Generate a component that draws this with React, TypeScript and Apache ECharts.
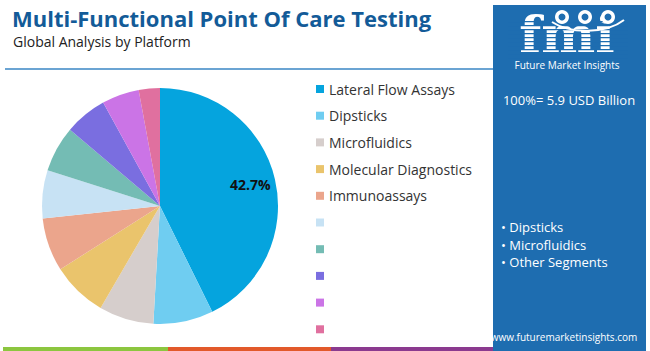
import React, { useEffect, useRef } from 'react';
import * as echarts from 'echarts';

const segments = [
  'Lateral Flow Assays',
  'Dipsticks',
  'Microfluidics',
  'Molecular Diagnostics',
  'Immunoassays',
  'Segment 6',
  'Segment 7',
  'Segment 8',
  'Segment 9',
  'Segment 10',
];
const shares = [42.7, 8.2, 7.5, 7.6, 7.3, 6.6, 6.3, 5.8, 5.1, 2.9];
const sliceColors = [
  '#05a4de',
  '#6fcdf1',
  '#d6cecc',
  '#eac46c',
  '#eba58c',
  '#c7e2f4',
  '#74bcb4',
  '#7a6ee0',
  '#cb74e6',
  '#e0709f',
];
const namedCount = 5;
const titleText = 'Multi-Functional Point Of Care Testing';
const subtitleText = 'Global Analysis by Platform';
const totalText = '100%= 5.9 USD Billion';
const panelBullets = ['Dipsticks', 'Microfluidics', 'Other Segments'];
const siteText = 'www.futuremarketinsights.com';

const FONT = '"Open Sans", Lato, sans-serif';
const PANEL = '#1e6db0';

function buildGraphics() {
  const g: any[] = [];
  // bottom strip
  g.push({ type: 'rect', shape: { x: 3, y: 347, width: 165, height: 4 }, style: { fill: '#8cc63f' } });
  g.push({ type: 'rect', shape: { x: 168, y: 347, width: 163, height: 4 }, style: { fill: '#e2592a' } });
  g.push({ type: 'rect', shape: { x: 331, y: 347, width: 162, height: 4 }, style: { fill: '#8b3a8f' } });
  // header line
  g.push({ type: 'line', shape: { x1: 5, y1: 69, x2: 493, y2: 69 }, style: { stroke: '#3a86c4', lineWidth: 1.5 } });
  // title
  g.push({
    type: 'text', x: 12, y: 18,
    style: { text: titleText, fill: '#135b98', font: `bold 22px ${FONT}`, align: 'left', verticalAlign: 'middle' },
  });
  g.push({
    type: 'text', x: 13, y: 41,
    style: { text: subtitleText, fill: '#222', font: `14px ${FONT}`, align: 'left', verticalAlign: 'middle' },
  });
  // right panel
  g.push({ type: 'rect', shape: { x: 493, y: 5, width: 153, height: 346 }, style: { fill: PANEL } });
  // logo
  g.push({
    type: 'text', x: 567, y: 34,
    style: {
      text: 'fmi', fill: '#ffffff', font: `bold 51px "DejaVu Serif", serif`,
      align: 'center', verticalAlign: 'middle',
    },
  });
  for (let y = 21; y < 58; y += 4) {
    g.push({ type: 'rect', shape: { x: 508, y, width: 120, height: 1.2 }, style: { fill: PANEL } });
  }
  g.push({
    type: 'bezierCurve',
    shape: { x1: 552, y1: 22, x2: 624, y2: 20, cpx1: 570, cpy1: 34, cpx2: 606, cpy2: 34 },
    style: { stroke: '#ffffff', lineWidth: 2, fill: null },
  });
  [562, 585, 608].forEach((cx) => {
    g.push({ type: 'circle', shape: { cx, cy: 17, r: 7 }, style: { fill: '#ffffff' } });
    g.push({ type: 'circle', shape: { cx, cy: 17, r: 3.5 }, style: { fill: PANEL } });
  });
  g.push({
    type: 'text', x: 567, y: 65,
    style: { text: 'Future Market Insights', fill: '#ffffff', font: `10px ${FONT}`, align: 'center', verticalAlign: 'middle' },
  });
  g.push({
    type: 'text', x: 569, y: 100,
    style: { text: totalText, fill: '#ffffff', font: `13px ${FONT}`, align: 'center', verticalAlign: 'middle' },
  });
  panelBullets.forEach((b, i) => {
    g.push({
      type: 'text', x: 501, y: 227 + i * 17.5,
      style: { text: '\u2022 ' + b, fill: '#ffffff', font: `13px ${FONT}`, align: 'left', verticalAlign: 'middle' },
    });
  });
  g.push({
    type: 'text', x: 564, y: 337,
    style: { text: siteText, fill: '#ffffff', font: `10px ${FONT}`, align: 'center', verticalAlign: 'middle' },
  });
  return g;
}

export default function App() {
  const ref = useRef<HTMLDivElement>(null);
  useEffect(() => {
    if (!ref.current) return;
    const chart = echarts.init(ref.current, undefined, { renderer: 'svg' });
    const R = 118;
    chart.setOption({
      animation: false,
      backgroundColor: '#ffffff',
      color: sliceColors,
      legend: {
        orient: 'vertical',
        left: 311,
        top: 77,
        itemWidth: 8,
        itemHeight: 8,
        itemGap: 12.7,
        icon: 'rect',
        selectedMode: false,
        data: segments,
        formatter: (name: string) => {
          const idx = segments.indexOf(name);
          return idx < namedCount ? name : '\u00a0';
        },
        textStyle: { fontFamily: FONT, fontSize: 14, color: '#333', lineHeight: 14 },
      },
      graphic: buildGraphics(),
      series: [
        {
          type: 'pie',
          center: [160, 206],
          radius: [0, R],
          startAngle: 90,
          clockwise: true,
          silent: true,
          label: { show: false },
          labelLine: { show: false },
          data: shares.map((v, i) => ({ value: v, name: segments[i] })),
        },
        {
          type: 'pie',
          center: [160, 206],
          radius: [R * 0.52, R],
          startAngle: 90,
          clockwise: true,
          silent: true,
          itemStyle: { color: 'rgba(0,0,0,0)' },
          labelLine: { show: false },
          label: {
            position: 'inside',
            formatter: (p: any) => p.percent.toFixed(1) + '%',
            fontFamily: FONT,
            fontWeight: 'bold',
            fontSize: 14,
            color: '#111',
          },
          data: shares.map((v, i) => ({ value: v, name: 'lbl_' + segments[i], label: { show: i === 0 } })),
        },
      ],
    });
    return () => chart.dispose();
  }, []);
  return (
    <div
      ref={ref}
      style={{ position: 'fixed', left: 0, top: 0, width: 650, height: 351 }}
    />
  );
}
